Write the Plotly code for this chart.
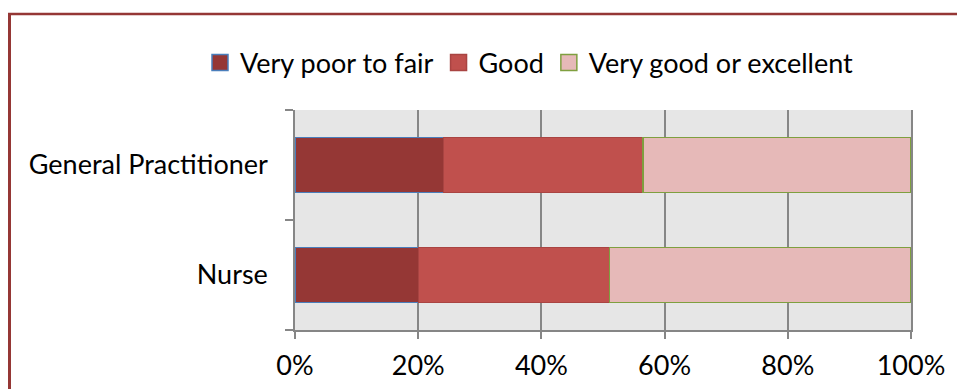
import plotly.graph_objects as go

# Ratings of care by provider type (percent of respondents)
providers = ["General Practitioner", "Nurse"]
series_names = ["Very poor to fair", "Good", "Very good or excellent"]
very_poor_to_fair = [24.1, 20.0]
good = [32.4, 31.0]
very_good_or_excellent = [43.5, 49.0]
x_ticks = [0, 20, 40, 60, 80, 100]
x_tick_labels = ["0%", "20%", "40%", "60%", "80%", "100%"]

fills = ["#953735", "#C0504D", "#E6B9B8"]
outlines = ["#4A7EBB", "#A94442", "#7F9F3F"]

W, H = 957, 389
L, R, T, B = 295, 46, 110, 59
pw, ph = W - L - R, H - T - B

font_family = "Lato, 'Open Sans', sans-serif"
fs = 27

fig = go.Figure()
for name, vals, fc, lc in zip(series_names,
                              [very_poor_to_fair, good, very_good_or_excellent],
                              fills, outlines):
    fig.add_trace(go.Bar(
        y=providers, x=vals, name=name, orientation="h",
        legendgroup=name, showlegend=False,
        marker=dict(color=fc, line=dict(color=lc, width=1.3)),
    ))
    # larger square swatch for the legend entry
    fig.add_trace(go.Scatter(
        x=[None], y=[None], mode="markers", name=name, legendgroup=name,
        marker=dict(symbol="square", size=16, color=fc,
                    line=dict(color=lc, width=1.5)),
    ))


def px_x(px):
    return (px - L) / pw


def px_y(py):
    return (H - B - py) / ph


frame = "#953735"
shapes = [
    dict(type="line", xref="paper", yref="paper",
         x0=px_x(8), x1=px_x(W + 5), y0=px_y(14), y1=px_y(14),
         line=dict(color=frame, width=2.5)),
    dict(type="line", xref="paper", yref="paper",
         x0=px_x(9.5), x1=px_x(9.5), y0=px_y(13), y1=px_y(H + 5),
         line=dict(color=frame, width=3)),
]

fig.update_layout(
    width=W, height=H,
    margin=dict(l=L, r=R, t=T, b=B, autoexpand=False),
    barmode="stack",
    bargap=0.5,
    plot_bgcolor="#E6E6E6",
    paper_bgcolor="white",
    font=dict(family=font_family, size=fs, color="#000000"),
    shapes=shapes,
    legend=dict(
        orientation="h",
        x=px_x(200), xanchor="left",
        y=px_y(63), yanchor="middle",
        font=dict(size=fs),
        traceorder="normal",
        itemsizing="trace",
        bgcolor="rgba(0,0,0,0)",
        itemclick=False,
    ),
    showlegend=True,
)

fig.update_xaxes(
    range=[0, 100],
    tickvals=x_ticks, ticktext=x_tick_labels,
    showgrid=True, gridcolor="#868686", gridwidth=1.5,
    showline=True, linecolor="#868686", linewidth=1.5,
    ticks="outside", ticklen=7, tickcolor="#868686", tickwidth=1.5,
    zeroline=False, automargin=False,
    ticklabelstandoff=4,
    tickfont=dict(size=fs),
)

fig.update_yaxes(
    categoryorder="array", categoryarray=providers[::-1],
    showgrid=False,
    showline=True, linecolor="#868686", linewidth=1.5, mirror=True,
    ticks="outside", ticklen=8, tickcolor="#868686", tickwidth=1.5,
    tickson="boundaries", automargin=False,
    ticklabelstandoff=20,
    tickfont=dict(size=fs),
)

fig.write_html("out.html")
